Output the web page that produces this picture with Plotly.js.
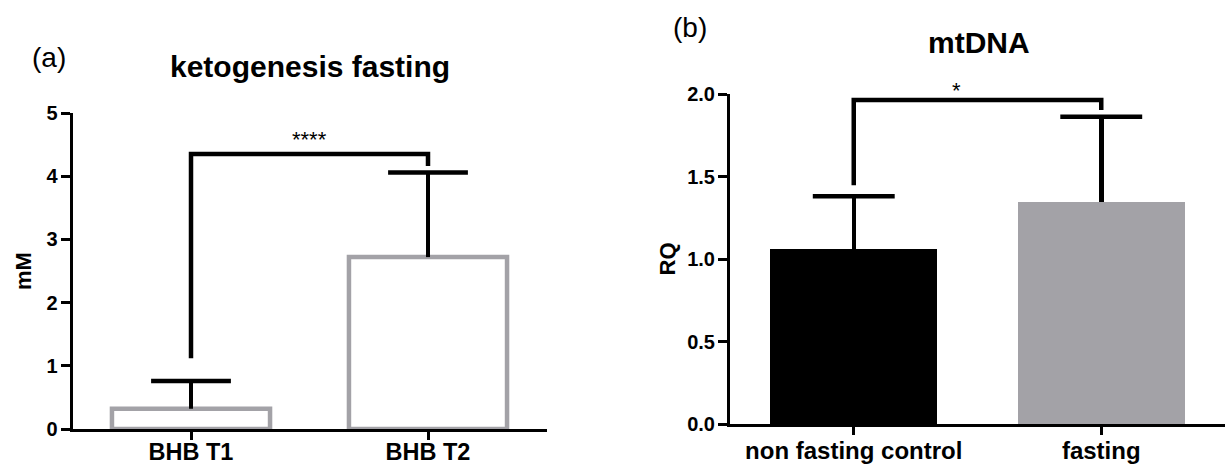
<!DOCTYPE html>
<html>
<head>
<meta charset="utf-8">
<script src="https://cdn.plot.ly/plotly-3.0.1.min.js"></script>
<style>html,body{margin:0;padding:0;background:#fff;}#chart{width:1225px;height:465px;}</style>
</head>
<body>
<div id="chart"></div>
<script>
// Panel (a): ketogenesis fasting
const catsA = ['BHB T1', 'BHB T2'];
const meanA = [0.32, 2.72];
const errA = [0.44, 1.34];
const bracketAx = ['BHB T1', 'BHB T1', 'BHB T2', 'BHB T2'];
const bracketAy = [1.12, 4.35, 4.35, 4.16];
const starsA = '****';
const yTicksA = [0, 1, 2, 3, 4, 5];
const yTickTextA = ['0', '1', '2', '3', '4', '5'];

// Panel (b): mtDNA
const catsB = ['non fasting control', 'fasting'];
const meanB = [1.06, 1.347];
const errB = [0.32, 0.515];
const bracketBx = ['non fasting control', 'non fasting control', 'fasting', 'fasting'];
const bracketBy = [1.447, 1.964, 1.964, 1.903];
const starsB = '*';
const yTicksB = [0, 0.5, 1.0, 1.5, 2.0];
const yTickTextB = ['0.0', '0.5', '1.0', '1.5', '2.0'];

const FONT = 'Liberation Sans, Arial, Helvetica, sans-serif';
const GRAY = '#a3a2a7';

// cap positions (top of the one-sided error bars)
const capA = meanA.map((m, i) => m + errA[i]);
const capB = meanB.map((m, i) => m + errB[i]);

const traces = [
  {
    type: 'bar', x: catsA, y: meanA, xaxis: 'x', yaxis: 'y', width: 0.667,
    marker: {color: '#ffffff', line: {color: GRAY, width: 4.5}},
    error_y: {type: 'data', symmetric: false, array: errA, arrayminus: [0, 0],
              color: '#000', thickness: 4, width: 0},
    hoverinfo: 'skip'
  },
  {
    type: 'scatter', mode: 'markers', x: catsA, y: capA, xaxis: 'x', yaxis: 'y',
    marker: {symbol: 'line-ew', size: 57, color: '#000', line: {color: '#000', width: 4.5}},
    hoverinfo: 'skip', cliponaxis: false
  },
  {
    type: 'scatter', mode: 'lines', x: bracketAx, y: bracketAy, xaxis: 'x', yaxis: 'y',
    line: {color: '#000', width: 4.5}, hoverinfo: 'skip'
  },
  {
    type: 'bar', x: catsB, y: meanB, xaxis: 'x2', yaxis: 'y2', width: 0.675,
    marker: {color: ['#000000', GRAY], line: {width: 0}},
    error_y: {type: 'data', symmetric: false, array: errB, arrayminus: [0, 0],
              color: '#000', thickness: 4.5, width: 0},
    hoverinfo: 'skip'
  },
  {
    type: 'scatter', mode: 'markers', x: catsB, y: capB, xaxis: 'x2', yaxis: 'y2',
    marker: {symbol: 'line-ew', size: 58.5, color: '#000', line: {color: '#000', width: 4.5}},
    hoverinfo: 'skip', cliponaxis: false
  },
  {
    type: 'scatter', mode: 'lines', x: bracketBx, y: bracketBy, xaxis: 'x2', yaxis: 'y2',
    line: {color: '#000', width: 4.5}, hoverinfo: 'skip'
  }
];

const W = 1225, H = 465;
function px(x) { return x / W; }
function py(y) { return (H - y) / H; }

const xCommon = {
  type: 'category', range: [-0.5, 1.5], showline: true, linecolor: '#000', linewidth: 3,
  ticks: 'outside', ticklen: 8, tickwidth: 3, tickcolor: '#000', ticklabelstandoff: -5,
  tickfont: {family: FONT, size: 24, color: '#000', weight: 'bold'},
  showgrid: false, zeroline: false, fixedrange: true
};
const yCommon = {
  showline: true, linecolor: '#000', linewidth: 3,
  ticks: 'outside', ticklen: 9, tickwidth: 3, tickcolor: '#000', ticklabelstandoff: -1,
  tickfont: {family: FONT, size: 20, color: '#000', weight: 'bold'},
  showgrid: false, zeroline: false, fixedrange: true, tickmode: 'array'
};

const layout = {
  width: W, height: H,
  margin: {l: 0, r: 0, t: 0, b: 0},
  paper_bgcolor: '#fff', plot_bgcolor: '#fff',
  showlegend: false, bargap: 0,
  font: {family: FONT, color: '#000'},
  xaxis: Object.assign({}, xCommon, {domain: [px(72.5), px(546.5)], anchor: 'y',
    ticklabelstandoff: -8, tickfont: {family: FONT, size: 23.5, color: '#000', weight: 'bold'}}),
  yaxis: Object.assign({}, yCommon, {
    domain: [py(429), py(113)], anchor: 'x', range: [0, 5],
    tickvals: yTicksA, ticktext: yTickTextA,
    title: {text: 'mM', font: {family: FONT, size: 22, weight: 'bold', color: '#000'}, standoff: 9}
  }),
  xaxis2: Object.assign({}, xCommon, {domain: [px(730), 1], anchor: 'y2'}),
  yaxis2: Object.assign({}, yCommon, {
    domain: [py(424), py(94)], anchor: 'x2', range: [0, 2],
    tickvals: yTicksB, ticktext: yTickTextB,
    title: {text: 'RQ', font: {family: FONT, size: 22, weight: 'bold', color: '#000'}, standoff: 6}
  }),
  annotations: [
    {text: 'ketogenesis fasting', xref: 'paper', yref: 'paper', x: px(310), y: py(67),
     xanchor: 'center', yanchor: 'middle', showarrow: false,
     font: {family: FONT, size: 30, weight: 'bold', color: '#000'}},
    {text: 'mtDNA', xref: 'paper', yref: 'paper', x: px(979), y: py(42.5),
     xanchor: 'center', yanchor: 'middle', showarrow: false,
     font: {family: FONT, size: 30, weight: 'bold', color: '#000'}},
    {text: '(a)', xref: 'paper', yref: 'paper', x: px(30), y: py(57.5),
     xanchor: 'left', yanchor: 'middle', showarrow: false,
     font: {family: FONT, size: 28, color: '#000'}},
    {text: '(b)', xref: 'paper', yref: 'paper', x: px(671), y: py(28),
     xanchor: 'left', yanchor: 'middle', showarrow: false,
     font: {family: FONT, size: 28, color: '#000'}},
    {text: starsA, xref: 'x', yref: 'y', x: 0.5, y: bracketAy[1],
     xanchor: 'center', yanchor: 'bottom', yshift: 0, showarrow: false,
     font: {family: FONT, size: 22, color: '#000'}},
    {text: starsB, xref: 'x2', yref: 'y2', x: 0.415, y: bracketBy[1],
     xanchor: 'center', yanchor: 'bottom', yshift: -5, showarrow: false,
     font: {family: FONT, size: 22, color: '#000'}}
  ]
};

Plotly.newPlot('chart', traces, layout, {staticPlot: true, displayModeBar: false});
</script>
</body>
</html>
